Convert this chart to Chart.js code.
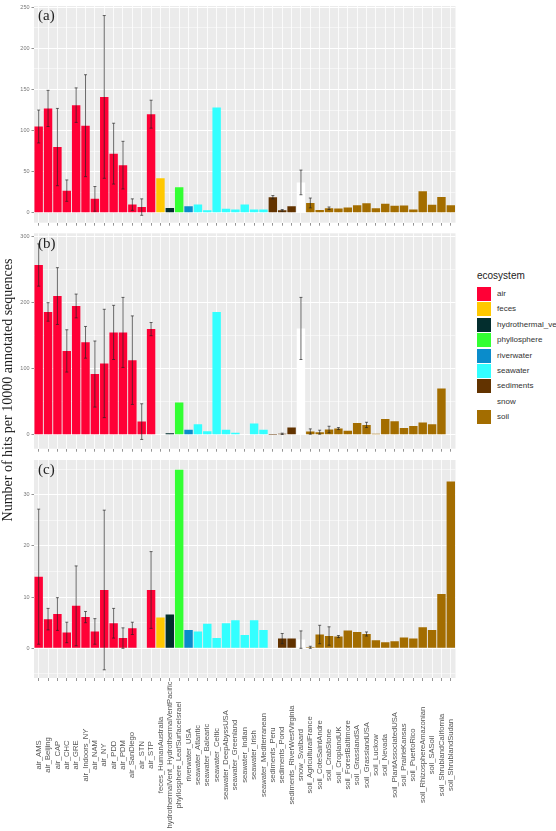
<!DOCTYPE html>
<html>
<head>
<meta charset="utf-8">
<script src="https://cdn.jsdelivr.net/npm/chart.js@4.4.0/dist/chart.umd.min.js"></script>
<style>
  html, body { margin: 0; padding: 0; background: #fff; width: 556px; height: 831px; overflow: hidden; }
  .panel { position: absolute; left: 0; width: 456px; }
  #ytitle {
    position: absolute; left: -192px; top: 382px; width: 400px; height: 16px; line-height: 16px;
    text-align: center; font: 14px "Liberation Serif", "Times New Roman", serif; color: #1a1a1a;
    transform: rotate(-90deg); transform-origin: 50% 50%; white-space: nowrap;
  }
  #legend { position: absolute; left: 477px; top: 270px; font-family: "Liberation Sans", Arial, sans-serif; white-space: nowrap; }
  #legend .title { font-size: 10px; line-height: 12px; color: #222; margin-bottom: 5px; }
  #legend .row { position: relative; height: 15.4px; }
  #legend .key { position: absolute; left: 0; top: 0; width: 14px; height: 14px; }
  #legend .lab { position: absolute; left: 20px; top: 2px; font-size: 8px; line-height: 10px; color: #333; }
</style>
</head>
<body>
<div class="panel" style="top:0;height:228px"><canvas id="chartA"></canvas></div>
<div class="panel" style="top:228px;height:226px"><canvas id="chartB"></canvas></div>
<div class="panel" style="top:454px;height:377px"><canvas id="chartC"></canvas></div>
<div id="ytitle">Number of hits per 10000 annotated sequences</div>
<div id="legend"></div>
<script>
const categories = [
    "air_AMS", "air_Beijing", "air_CAP", "air_CHC", "air_GRE", "air_Indoors_NY", "air_NAM", "air_NY",
    "air_PDD", "air_PDM", "air_SanDiego", "air_STN", "air_STP", "feces_HumanAustralia",
    "hydrothermalVent_HydrothermalVentPacific", "phyllosphere_LeafSurfaceIsrael", "riverwater_USA",
    "seawater_Atlantic", "seawater_Balearic", "seawater_Celtic", "seawater_DeepAbyssUSA",
    "seawater_Greenland", "seawater_Indian", "seawater_Irish", "seawater_Mediterranean",
    "sediments_Peru", "sediments_Pond", "sediments_RiverWestVirginia", "snow_Svalbard",
    "soil_AgriculturalFrance", "soil_CoteSaintAndre", "soil_CrabStone", "soil_CroplandUK",
    "soil_ForestBaltimore", "soil_GrasslandSA", "soil_GrasslandUSA", "soil_Luckow", "soil_Nevada",
    "soil_PlantAssociatedUSA", "soil_PrairieKansas", "soil_PuertoRico", "soil_RhizosphereAmazonian",
    "soil_SASoil", "soil_ShrublandCalifornia", "soil_ShrublandSudan"
];

const ecosystemNames = ["air", "feces", "hydrothermal_vent", "phyllosphere", "riverwater", "seawater", "sediments", "snow", "soil"];
const ecosystemPrefixes = ["air", "feces", "hydrothermalVent", "phyllosphere", "riverwater", "seawater", "sediments", "snow", "soil"];
const ecosystemColors = ["#FF0036", "#FFC800", "#032E2E", "#33FF33", "#0A8CCB", "#33FFFF", "#623300", "#FFFFFF", "#A36D00"];

// (a)
const valuesA = [105, 127, 80, 27, 131, 106, 17, 141, 72, 58, 10, 7, 120,
    42, 6, 31, 8,
    10, 3, 128, 5, 4, 10, 4, 4,
    19, 3, 8, 37,
    12, 3.6, 5.6, 5.2, 6.5, 9.3, 11.7, 5.6, 10.9, 8.5, 8.9, 4, 26.2, 9.7, 19.4, 9.3];
const errorsA = [20, 22, 47, 13, 21, 62, 15, 99, 37, 29, 7, 10, 17,
    0, 0, 0, 0,
    0, 0, 0, 0, 0, 0, 0, 0,
    2, 1, 0, 15,
    6, 0, 1.5, 0, 0, 0, 0, 0, 0, 0, 0, 0, 0, 0, 0, 0];

// (b)
const valuesB = [257, 186, 210, 127, 195, 140, 92, 108, 155, 155, 113, 20, 160,
    0, 2.5, 49, 7.8,
    16, 5.4, 186, 7.8, 3, 0, 17, 7.8,
    0.3, 1.5, 11, 161,
    5, 4, 8, 9.5, 6, 18, 15, 1.5, 24, 20.5, 10.5, 13.5, 18.5, 16, 70, 0];
const errorsB = [32, 14, 43, 32, 18, 24, 50, 82, 41, 53, 67, 27, 10,
    0, 0, 0, 0,
    0, 0, 0, 0, 0, 0, 0, 0,
    0, 1, 0, 47,
    4, 3, 5, 1.5, 0, 0, 4, 0, 0, 0, 0, 0, 0, 0, 0, 0];

// (c)
const valuesC = [14.0, 5.7, 6.7, 3.1, 8.3, 6.1, 3.3, 11.4, 4.9, 2.0, 3.9, 0.1, 11.4,
    6.0, 6.6, 34.9, 3.6,
    3.3, 4.8, 2.0, 4.9, 5.5, 2.6, 5.5, 3.6,
    0.1, 1.9, 1.9, 1.7,
    0.2, 2.7, 2.4, 2.3, 3.5, 3.2, 2.8, 1.6, 1.2, 1.4, 2.1, 1.9, 4.1, 3.6, 10.6, 32.6];
const errorsC = [13.2, 2.1, 3.2, 2.0, 7.8, 1.1, 2.5, 15.6, 2.9, 2.0, 1.2, 0, 7.5,
    0, 0, 0, 0,
    0, 0, 0, 0, 0, 0, 0, 0,
    0, 1.0, 0, 1.7,
    0.2, 1.8, 1.8, 0.2, 0, 0, 0.4, 0, 0, 0, 0, 0, 0, 0, 0, 0];

const barColors = categories.map(c => ecosystemColors[ecosystemPrefixes.indexOf(c.split("_")[0])]);

// fundo cinza do painel
const panelBackground = {
    id: "panelBackground",
    beforeDraw(chart) {
        const { ctx, chartArea: a } = chart;
        ctx.save();
        ctx.fillStyle = "#EBEBEB";
        ctx.fillRect(a.left, a.top, a.width, a.height);
        ctx.restore();
    }
};

// barras de erro
const errorBars = {
    id: "errorBars",
    afterDatasetsDraw(chart, args, opts) {
        const { ctx, scales } = chart;
        const values = chart.data.datasets[0].data;
        ctx.save();
        ctx.strokeStyle = "rgba(35,35,35,0.75)";
        ctx.lineWidth = 0.9;
        opts.errors.forEach((e, i) => {
            if (!e) return;
            const px = scales.x.getPixelForValue(i);
            const top = scales.y.getPixelForValue(values[i] + e);
            const bot = scales.y.getPixelForValue(values[i] - e);
            ctx.beginPath();
            ctx.moveTo(px, top); ctx.lineTo(px, bot);
            ctx.moveTo(px - 1.5, top); ctx.lineTo(px + 1.5, top);
            ctx.moveTo(px - 1.5, bot); ctx.lineTo(px + 1.5, bot);
            ctx.stroke();
        });
        ctx.restore();
    }
};

// (a)/(b)/(c) e nomes das amostras
const panelText = {
    id: "panelText",
    afterDraw(chart, args, opts) {
        const { ctx, chartArea: a } = chart;
        ctx.save();
        ctx.fillStyle = "#222";
        ctx.font = '15px "Liberation Serif", "Times New Roman", serif';
        ctx.textBaseline = "top";
        ctx.textAlign = "left";
        ctx.fillText(opts.tag, a.left + 4, a.top + 3);
        if (opts.showNames) {
            const x = chart.scales.x;
            ctx.fillStyle = "#555";
            ctx.font = '7.6px "Liberation Sans", Arial, sans-serif';
            ctx.textAlign = "center";
            ctx.textBaseline = "middle";
            categories.forEach((c, i) => {
                ctx.save();
                ctx.translate(x.getPixelForTick(i), x.top + 77);
                ctx.rotate(-Math.PI / 2);
                ctx.fillText(c, 0, 0);
                ctx.restore();
            });
        }
        ctx.restore();
    }
};

function panelConfig(values, errors, yMin, yMax, major, tag, padTop, xHeight, showNames) {
    const isMajor = v => Math.abs(v % major) < 1e-9;
    return {
        type: "bar",
        data: {
            labels: categories,
            datasets: [{
                data: values,
                backgroundColor: barColors,
                borderWidth: 0,
                categoryPercentage: 0.9,
                barPercentage: 1
            }]
        },
        options: {
            responsive: true,
            maintainAspectRatio: false,
            animation: false,
            layout: { padding: { top: padTop, right: 0.5, left: 0, bottom: 0 } },
            scales: {
                x: {
                    grid: { offset: false, color: "#FFFFFF", lineWidth: 0.8, tickLength: 3, tickColor: "#666", tickWidth: 0.7 },
                    border: { display: false },
                    ticks: { display: false, autoSkip: false },
                    afterFit: s => { s.height = xHeight; }
                },
                y: {
                    min: yMin,
                    max: yMax,
                    grid: {
                        color: "#FFFFFF",
                        lineWidth: c => (c.tick && isMajor(c.tick.value)) ? 1 : 0.5,
                        tickLength: 2.5,
                        tickColor: c => (c.tick && isMajor(c.tick.value)) ? "#666" : "rgba(0,0,0,0)",
                        tickWidth: 0.7
                    },
                    border: { display: false },
                    ticks: {
                        stepSize: major / 2,
                        includeBounds: false,
                        autoSkip: false,
                        callback: v => isMajor(v) ? String(v) : "",
                        font: { size: 5.5, family: '"Liberation Sans", Arial, sans-serif' },
                        color: "#777",
                        padding: 2
                    },
                    afterFit: s => { s.width = 34; }
                }
            },
            plugins: {
                legend: { display: false },
                tooltip: { enabled: false },
                errorBars: { errors: errors },
                panelText: { tag: tag, showNames: showNames }
            }
        },
        plugins: [panelBackground, errorBars, panelText]
    };
}

new Chart(document.getElementById("chartA"), panelConfig(valuesA, errorsA, -12, 251.6, 50, "(a)", 6, 4, false));
new Chart(document.getElementById("chartB"), panelConfig(valuesB, errorsB, -21, 305, 100, "(b)", 3, 4, false));
new Chart(document.getElementById("chartC"), panelConfig(valuesC, errorsC, -5.8, 36.8, 10, "(c)", 6, 153, true));

// legenda
const legend = document.getElementById("legend");
let html = '<div class="title">ecosystem</div>';
ecosystemNames.forEach((name, i) => {
    html += '<div class="row"><div class="key" style="background:' + ecosystemColors[i] + '"></div>' +
            '<div class="lab">' + name + '</div></div>';
});
legend.innerHTML = html;
</script>
</body>
</html>
